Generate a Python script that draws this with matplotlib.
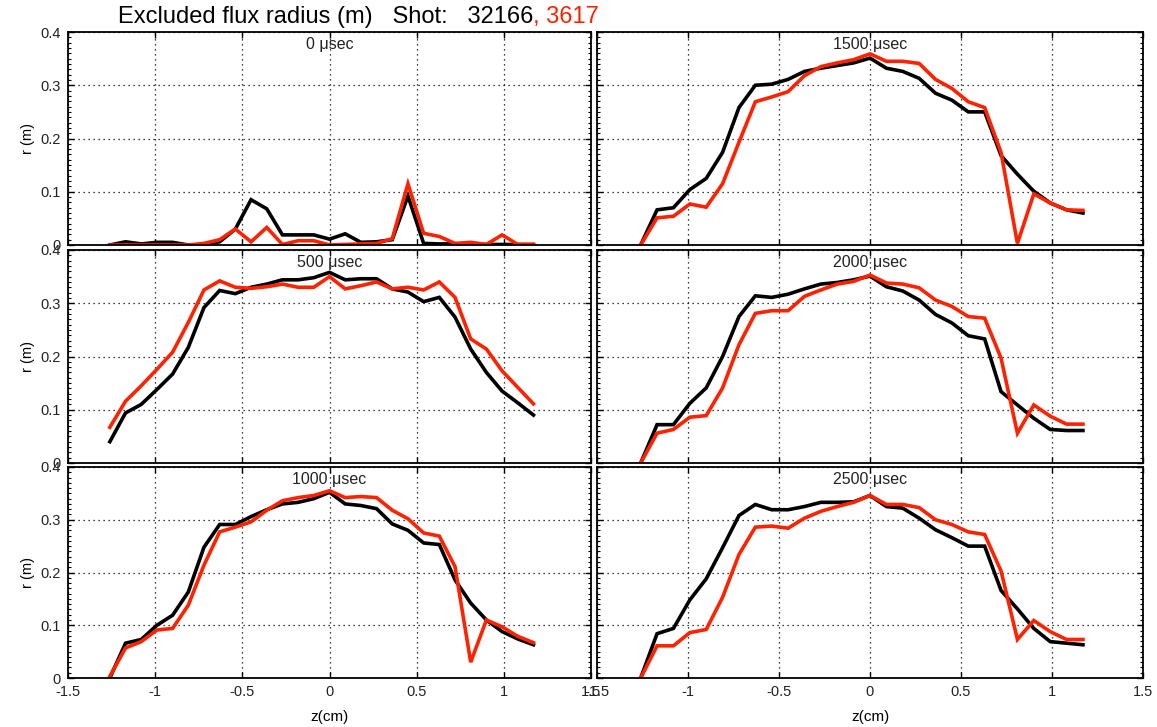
import matplotlib
matplotlib.use("Agg")
import matplotlib.pyplot as plt
from matplotlib.ticker import MultipleLocator

plt.rcParams["font.family"] = ["Liberation Sans", "DejaVu Sans"]

# axial probe positions (cm)
z = [-1.26, -1.17, -1.08, -0.99, -0.90, -0.81, -0.72, -0.63, -0.54, -0.45,
     -0.36, -0.27, -0.18, -0.09, 0.00, 0.09, 0.18, 0.27, 0.36, 0.45,
     0.54, 0.63, 0.72, 0.81, 0.90, 0.99, 1.08, 1.17]

times_us = [0, 1500, 500, 2000, 1000, 2500]

shot_a = "32166"
shot_b = "3617"

# excluded flux radius (m), shot 32166
r_a_0 = [0.0, 0.006, 0.002, 0.005, 0.005, 0.0, 0.0, 0.006, 0.030, 0.085,
         0.068, 0.019, 0.019, 0.019, 0.011, 0.021, 0.005, 0.006, 0.010, 0.092,
         0.003, 0.002, 0.002, 0.001, 0.001, 0.001, 0.001, 0.001]
r_a_500 = [0.040, 0.094, 0.110, 0.138, 0.167, 0.217, 0.292, 0.324, 0.318, 0.330,
           0.336, 0.344, 0.344, 0.348, 0.358, 0.344, 0.346, 0.346, 0.327, 0.321,
           0.303, 0.311, 0.274, 0.214, 0.170, 0.135, 0.113, 0.090]
r_a_1000 = [0.0, 0.066, 0.073, 0.100, 0.119, 0.163, 0.248, 0.291, 0.291, 0.306,
            0.319, 0.330, 0.333, 0.340, 0.352, 0.330, 0.327, 0.321, 0.292, 0.280,
            0.256, 0.253, 0.186, 0.142, 0.110, 0.088, 0.074, 0.063]
r_a_1500 = [0.0, 0.066, 0.070, 0.104, 0.125, 0.174, 0.258, 0.300, 0.302, 0.311,
            0.326, 0.332, 0.337, 0.342, 0.351, 0.332, 0.326, 0.313, 0.285, 0.272,
            0.250, 0.250, 0.168, 0.133, 0.101, 0.079, 0.066, 0.060]
r_a_2000 = [0.0, 0.072, 0.072, 0.112, 0.141, 0.200, 0.275, 0.314, 0.311, 0.317,
            0.327, 0.336, 0.339, 0.344, 0.351, 0.331, 0.323, 0.306, 0.279, 0.263,
            0.239, 0.233, 0.134, 0.109, 0.084, 0.063, 0.061, 0.061]
r_a_2500 = [0.0, 0.084, 0.094, 0.148, 0.188, 0.247, 0.308, 0.329, 0.319, 0.319,
            0.325, 0.333, 0.333, 0.334, 0.346, 0.325, 0.322, 0.303, 0.281, 0.266,
            0.250, 0.250, 0.166, 0.131, 0.094, 0.069, 0.066, 0.063]

# excluded flux radius (m), shot 3617
r_b_0 = [0.0, 0.0, 0.0, 0.0, 0.0, 0.0, 0.003, 0.010, 0.030, 0.006,
         0.033, 0.001, 0.008, 0.008, 0.0, 0.001, 0.002, 0.003, 0.012, 0.115,
         0.022, 0.016, 0.003, 0.005, 0.001, 0.019, 0.001, 0.001]
r_b_500 = [0.067, 0.116, 0.145, 0.176, 0.208, 0.264, 0.325, 0.342, 0.330, 0.328,
           0.331, 0.336, 0.330, 0.330, 0.350, 0.327, 0.333, 0.340, 0.327, 0.330,
           0.325, 0.340, 0.311, 0.233, 0.214, 0.173, 0.142, 0.111]
r_b_1000 = [0.003, 0.057, 0.069, 0.091, 0.094, 0.138, 0.214, 0.277, 0.286, 0.296,
            0.318, 0.336, 0.342, 0.346, 0.355, 0.342, 0.344, 0.342, 0.318, 0.302,
            0.275, 0.269, 0.211, 0.030, 0.110, 0.097, 0.079, 0.067]
r_b_1500 = [0.0, 0.051, 0.054, 0.077, 0.071, 0.115, 0.193, 0.269, 0.278, 0.288,
            0.318, 0.335, 0.342, 0.348, 0.359, 0.345, 0.345, 0.341, 0.311, 0.294,
            0.269, 0.258, 0.174, 0.003, 0.096, 0.079, 0.066, 0.065]
r_b_2000 = [0.0, 0.056, 0.063, 0.086, 0.089, 0.141, 0.222, 0.281, 0.286, 0.286,
            0.313, 0.325, 0.336, 0.341, 0.353, 0.338, 0.336, 0.329, 0.306, 0.294,
            0.275, 0.272, 0.197, 0.056, 0.109, 0.088, 0.073, 0.073]
r_b_2500 = [0.0, 0.061, 0.061, 0.086, 0.092, 0.153, 0.234, 0.286, 0.288, 0.284,
            0.303, 0.316, 0.325, 0.333, 0.346, 0.329, 0.329, 0.323, 0.300, 0.291,
            0.277, 0.272, 0.203, 0.073, 0.109, 0.088, 0.073, 0.073]

series_a = [r_a_0, r_a_1500, r_a_500, r_a_2000, r_a_1000, r_a_2500]
series_b = [r_b_0, r_b_1500, r_b_500, r_b_2000, r_b_1000, r_b_2500]

x_ticks = [-1.5, -1, -0.5, 0, 0.5, 1, 1.5]
x_tick_labels = ["-1.5", "-1", "-0.5", "0", "0.5", "1", "1.5"]
y_ticks = [0, 0.1, 0.2, 0.3, 0.4]
y_tick_labels = ["0", "0.1", "0.2", "0.3", "0.4"]

RED = "#ff2200"
BLACK = "#000000"
W, H = 1157, 727

fig = plt.figure(figsize=(W / 100, H / 100), dpi=100)

col_px = [(68, 591), (597, 1143)]
row_px = [(32, 245), (250, 463), (467, 678)]

for i in range(6):
    row, col = divmod(i, 2)
    x0, x1 = col_px[col]
    y0, y1 = row_px[row]
    ax = fig.add_axes([x0 / W, 1 - y1 / H, (x1 - x0) / W, (y1 - y0) / H])

    ax.plot(z, series_a[i], color=BLACK, lw=2.6, solid_joinstyle="miter")
    ax.plot(z, series_b[i], color=RED, lw=2.6, solid_joinstyle="miter")

    ax.set_xlim(-1.5, 1.5)
    ax.set_ylim(0, 0.4)
    ax.set_xticks(x_ticks)
    ax.set_yticks(y_ticks)
    ax.yaxis.set_minor_locator(MultipleLocator(0.01))
    ax.grid(True, which="major", color="black", linestyle=(0, (1, 3)), lw=0.9)
    ax.tick_params(which="both", direction="in", top=True, right=True,
                   labelsize=10.5, labelcolor="#222222", pad=5)
    ax.tick_params(which="major", length=4, width=1)
    ax.tick_params(which="minor", length=2, width=0.8)
    for s in ax.spines.values():
        s.set_linewidth(1.3)
        s.set_color("black")

    if col == 0:
        ax.set_yticklabels(y_tick_labels)
        ax.set_ylabel("r (m)", fontsize=10.5, labelpad=4)
    else:
        ax.set_yticklabels([])
    if row == 2:
        ax.set_xticklabels(x_tick_labels)
        ax.set_xlabel("z(cm)", fontsize=11, labelpad=8)
    else:
        ax.set_xticklabels([])

    ax.text(0.5, 0.975, f"{times_us[i]} \u03bcsec", transform=ax.transAxes,
            ha="center", va="top", fontsize=11.5, color="#222222")

# title: shot numbers coloured by series
title_y = 1 - 17 / H
t1 = fig.text(118 / W, title_y, f"Excluded flux radius (m)   Shot:   {shot_a}",
              fontsize=17, color="black", va="center", ha="left")
fig.canvas.draw()
bb = t1.get_window_extent()
fig.text(bb.x1 / W, title_y, f", {shot_b}", fontsize=17, color=RED,
         va="center", ha="left")

fig.savefig("out.png", dpi=100)
